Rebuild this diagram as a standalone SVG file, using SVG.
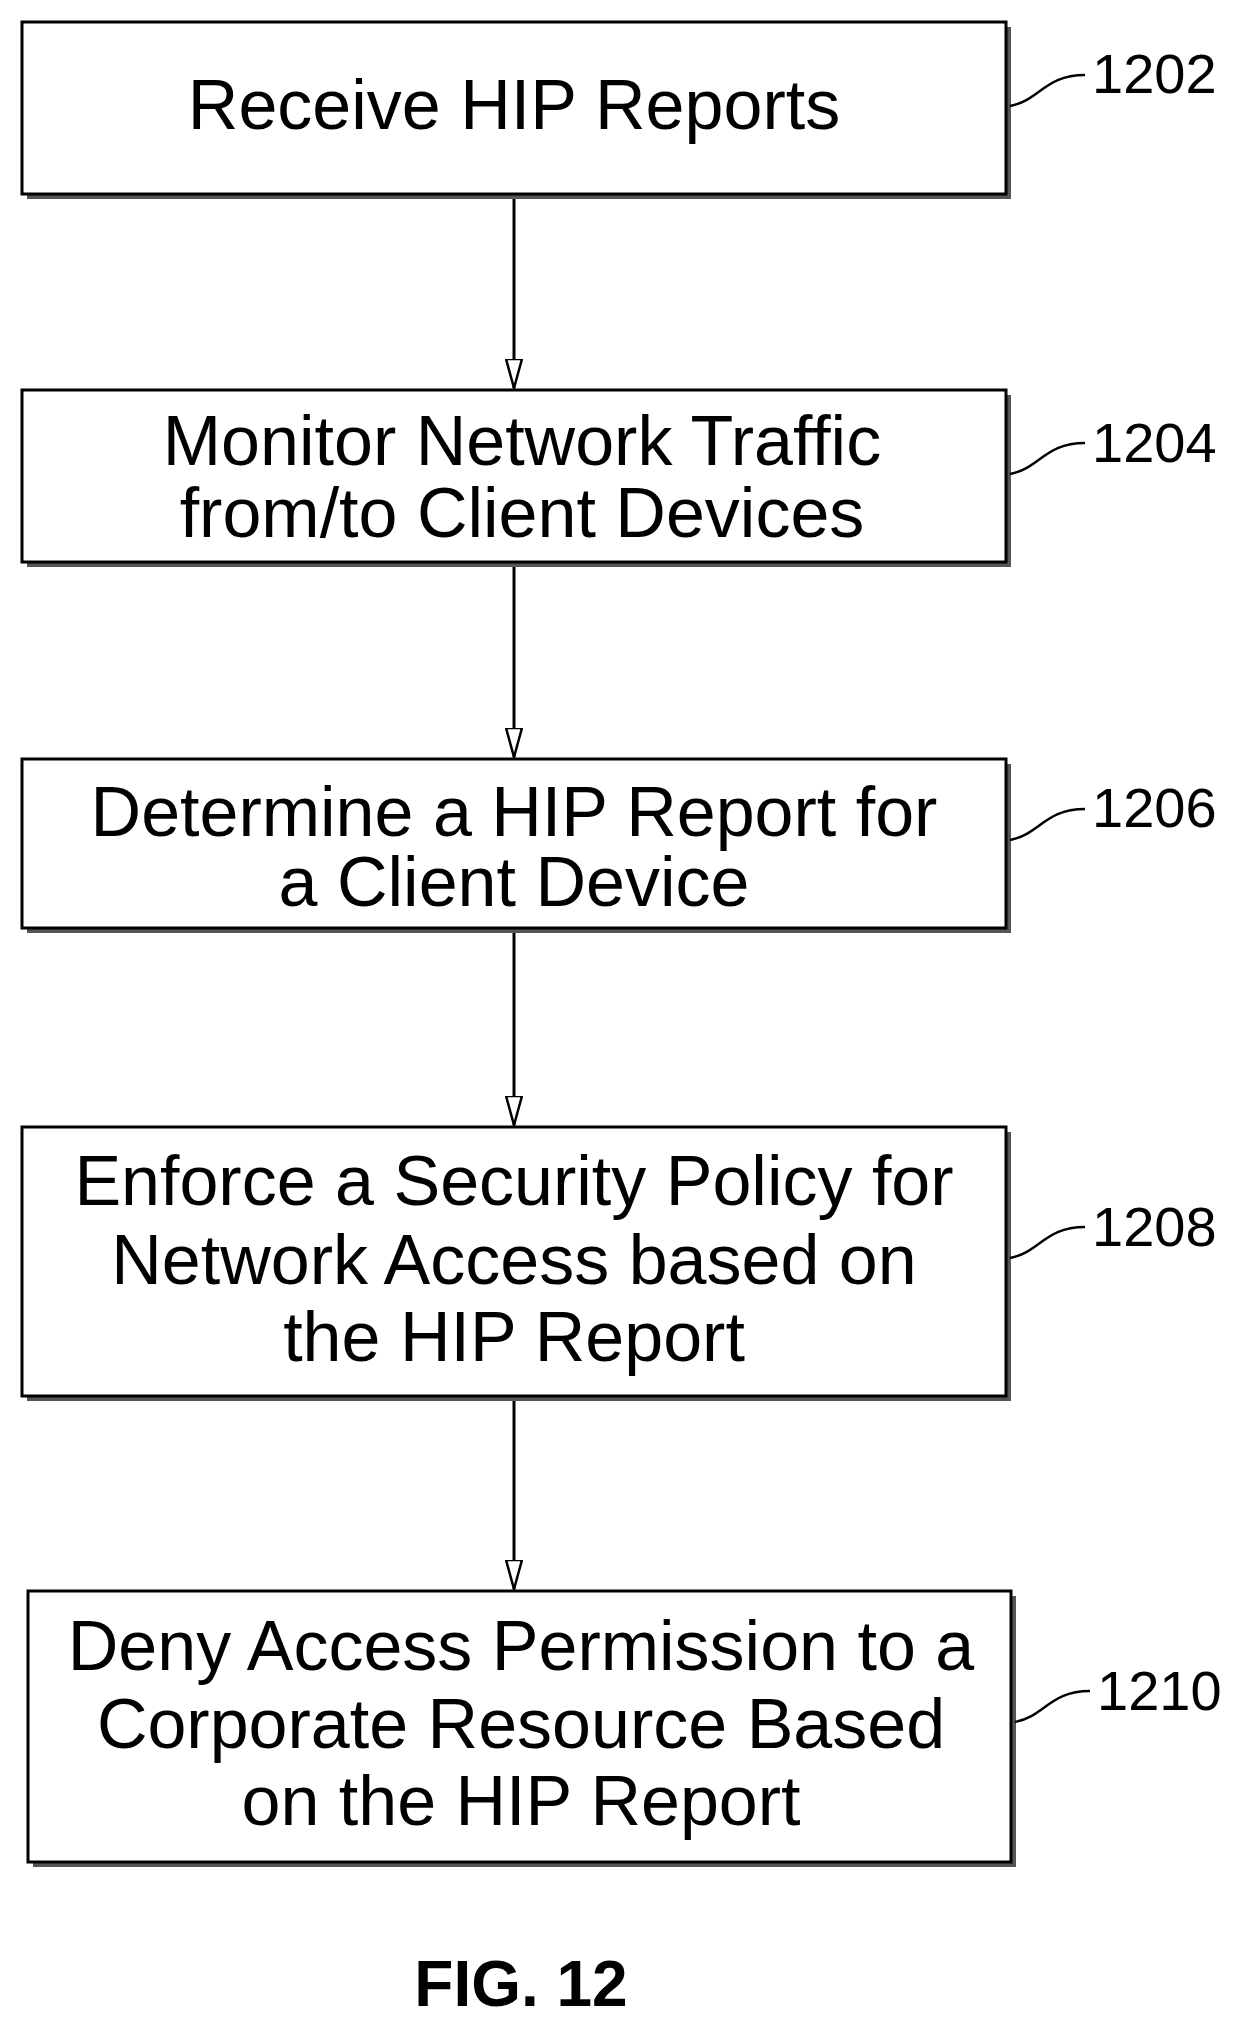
<svg xmlns="http://www.w3.org/2000/svg" width="1241" height="2022" viewBox="0 0 1241 2022">
<style>
.sh{fill:#555}
.bx{fill:#fff;stroke:#000;stroke-width:3}
.t{font-family:"Liberation Sans",Arial,sans-serif;font-size:70px;text-anchor:middle;fill:#000}
.l{font-family:"Liberation Sans",Arial,sans-serif;font-size:56px;fill:#000}
.ld{fill:none;stroke:#000;stroke-width:2.5}
.c{stroke:#000;stroke-width:3;fill:none}
</style>
<defs><marker id="a" markerWidth="30" markerHeight="18" refX="29" refY="9" orient="auto" markerUnits="userSpaceOnUse" viewBox="0 0 30 18"><path d="M0,1 L29,9 L0,17 Z" fill="#fff" stroke="#000" stroke-width="2.5"/></marker></defs>
<rect width="1241" height="2022" fill="#fff"/>
<g id="connectors">
<line class="c" x1="514" y1="194" x2="514" y2="388" marker-end="url(#a)"/>
<line class="c" x1="514" y1="562" x2="514" y2="757" marker-end="url(#a)"/>
<line class="c" x1="514" y1="928" x2="514" y2="1125" marker-end="url(#a)"/>
<line class="c" x1="514" y1="1396" x2="514" y2="1589" marker-end="url(#a)"/>
</g>
<g id="n1202"><rect class="sh" x="27" y="27" width="984" height="172"/><rect class="bx" x="22" y="22" width="984" height="172"/><text class="t" x="514" y="129">Receive HIP Reports</text><path class="ld" d="M1010,106 C1040,100 1045,75 1085,75"/><text class="l" x="1092" y="93">1202</text></g>
<g id="n1204"><rect class="sh" x="27" y="395" width="984" height="172"/><rect class="bx" x="22" y="390" width="984" height="172"/><text class="t" x="522" y="465">Monitor Network Traffic</text><text class="t" x="522" y="537">from/to Client Devices</text><path class="ld" d="M1010,474 C1040,468 1045,443 1085,443"/><text class="l" x="1092" y="462">1204</text></g>
<g id="n1206"><rect class="sh" x="27" y="764" width="984" height="169"/><rect class="bx" x="22" y="759" width="984" height="169"/><text class="t" x="514" y="836">Determine a HIP Report for</text><text class="t" x="514" y="906">a Client Device</text><path class="ld" d="M1010,840 C1040,834 1045,809 1085,809"/><text class="l" x="1092" y="827">1206</text></g>
<g id="n1208"><rect class="sh" x="27" y="1132" width="984" height="269"/><rect class="bx" x="22" y="1127" width="984" height="269"/><text class="t" x="514" y="1205">Enforce a Security Policy for</text><text class="t" x="514" y="1284">Network Access based on</text><text class="t" x="514" y="1361">the HIP Report</text><path class="ld" d="M1010,1258 C1040,1252 1045,1227 1085,1227"/><text class="l" x="1092" y="1246">1208</text></g>
<g id="n1210"><rect class="sh" x="33" y="1596" width="983" height="271"/><rect class="bx" x="28" y="1591" width="983" height="271"/><text class="t" x="521" y="1670">Deny Access Permission to a</text><text class="t" x="521" y="1748">Corporate Resource Based</text><text class="t" x="521" y="1825">on the HIP Report</text><path class="ld" d="M1015,1722 C1045,1716 1050,1691 1090,1691"/><text class="l" x="1097" y="1710">1210</text></g>
<text x="521" y="2006" style="font-family:'Liberation Sans',Arial,sans-serif;font-size:64px;font-weight:bold;text-anchor:middle">FIG. 12</text>
</svg>
